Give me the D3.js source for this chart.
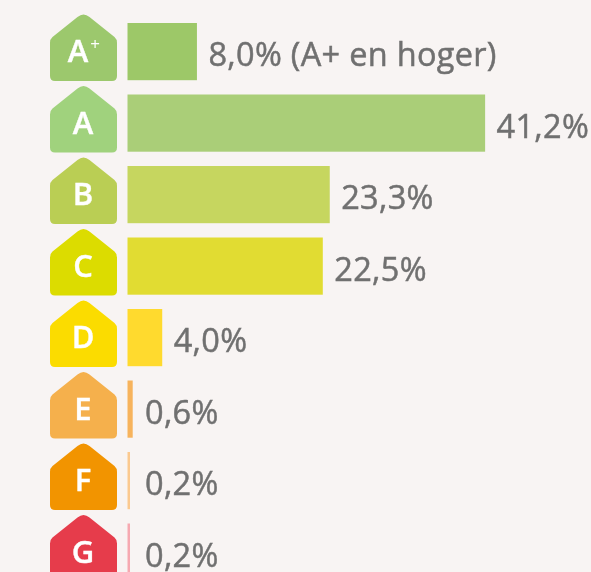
<!DOCTYPE html>
<html>
<head>
<meta charset="utf-8">
<script src="https://cdn.jsdelivr.net/npm/d3@7"></script>
<style>
  html, body { margin: 0; padding: 0; background: #f8f4f3; overflow: hidden; }
  svg { display: block; filter: blur(0.6px); }
  text { font-family: "Open Sans", sans-serif; }
</style>
</head>
<body>
<div id="wrapper"></div>
<script>
const labels = ["A", "A", "B", "C", "D", "E", "F", "G"];
const values = [8.0, 41.2, 23.3, 22.5, 4.0, 0.6, 0.2, 0.2];
const valueLabels = ["8,0% (A+ en hoger)", "41,2%", "23,3%", "22,5%", "4,0%", "0,6%", "0,2%", "0,2%"];
const badgeColors = ["#9cc86d", "#a0d27d", "#bace54", "#dcdc00", "#fbdc00", "#f5b04c", "#f29400", "#e63c4b"];
const barColors = ["#9dc868", "#aace78", "#c6d65f", "#e1dc32", "#ffda2e", "#f7b35c", "#fbc98f", "#f6a9b1"];

const dimensions = { width: 591, height: 572, barLeft: 127.5, pxPerPercent: 8.68, step: 71.5 };

const svg = d3.select("#wrapper").append("svg")
  .attr("width", dimensions.width)
  .attr("height", dimensions.height);

const xScale = d3.scaleLinear()
  .domain([0, 41.2])
  .range([dimensions.barLeft, dimensions.barLeft + 41.2 * dimensions.pxPerPercent]);

const yScale = d3.scaleBand()
  .domain(d3.range(values.length))
  .range([23, 23 + dimensions.step * 7.8])
  .paddingInner(0.2)
  .paddingOuter(0);

// house shaped energy label
function badgePath() {
  const p = d3.path();
  p.moveTo(-6, -34);
  p.quadraticCurveTo(0, -39, 6, -34);
  p.lineTo(31, -14);
  p.quadraticCurveTo(33.5, -12, 33.5, -8);
  p.lineTo(33.5, 25);
  p.quadraticCurveTo(33.5, 30, 28.5, 30);
  p.lineTo(-28.5, 30);
  p.quadraticCurveTo(-33.5, 30, -33.5, 25);
  p.lineTo(-33.5, -8);
  p.quadraticCurveTo(-33.5, -12, -31, -14);
  p.closePath();
  return p.toString();
}

const rows = svg.selectAll("g.row")
  .data(values)
  .join("g")
  .attr("class", "row");

rows.append("rect")
  .attr("x", xScale(0))
  .attr("y", (d, i) => yScale(i))
  .attr("width", d => Math.max(xScale(d) - xScale(0), 2.5))
  .attr("height", yScale.bandwidth())
  .attr("fill", (d, i) => barColors[i]);

rows.append("path")
  .attr("d", badgePath())
  .attr("transform", (d, i) => `translate(83.5,${yScale(i) + 28})`)
  .attr("fill", (d, i) => badgeColors[i]);

rows.append("text")
  .attr("x", (d, i) => i === 0 ? 78 : 83)
  .attr("y", (d, i) => yScale(i) + 39)
  .attr("text-anchor", "middle")
  .attr("fill", "#fff")
  .attr("stroke", "#fff")
  .attr("stroke-width", 0.4)
  .attr("font-size", 31)
  .attr("font-weight", 600)
  .text((d, i) => labels[i]);

svg.append("text")
  .attr("x", 95)
  .attr("y", yScale(0) + 27)
  .attr("text-anchor", "middle")
  .attr("fill", "#fff")
  .attr("font-size", 17)
  .text("+");

rows.append("text")
  .attr("x", d => Math.max(xScale(d) + 11.5, 145))
  .attr("y", (d, i) => yScale(i) + 43)
  .attr("fill", "#707070")
  .attr("stroke", "#707070")
  .attr("stroke-width", 0.5)
  .attr("font-size", 32.5)
  .attr("letter-spacing", 0.3)
  .text((d, i) => valueLabels[i]);
</script>
</body>
</html>
